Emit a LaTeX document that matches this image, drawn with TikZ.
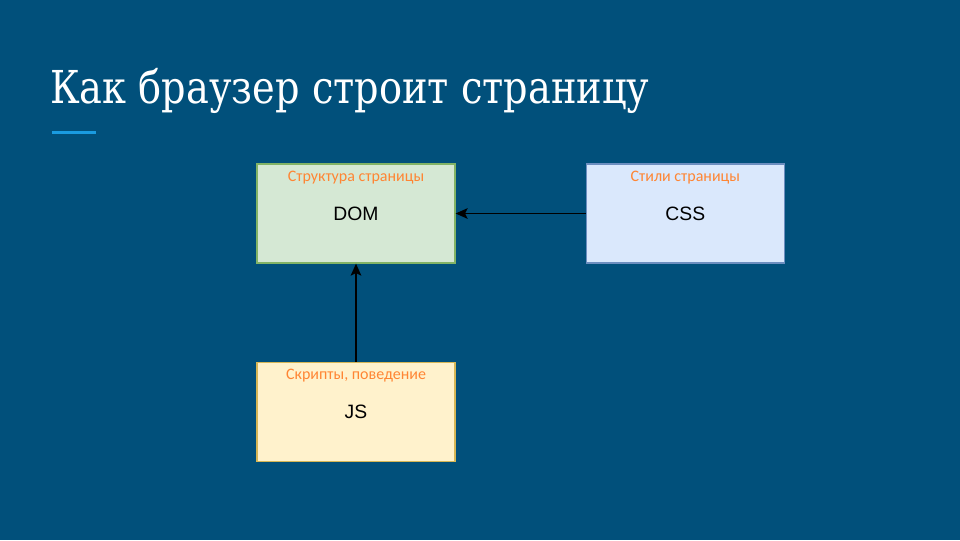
\documentclass[tikz,border=0pt]{standalone}
\usepackage{fontspec}
\setmainfont{Liberation Sans}
\newfontfamily\titlefont{DejaVu Serif}[FakeStretch=0.845]
\newfontfamily\capfont{Carlito}
\usepackage{tikz}
\usetikzlibrary{shapes,arrows.meta,positioning,calc}
\definecolor{slidebg}{HTML}{01507B}
\definecolor{slideaccent}{HTML}{1A9BE0}
\definecolor{capcolor}{HTML}{FF8533}
\definecolor{domfill}{HTML}{D5E8D4}
\definecolor{domdraw}{HTML}{82B366}
\definecolor{cssfill}{HTML}{DAE8FC}
\definecolor{cssdraw}{HTML}{6C8EBF}
\definecolor{jsfill}{HTML}{FFF2CC}
\definecolor{jsdraw}{HTML}{D6B656}
\tikzstyle{block} = [rectangle, line width=1pt, minimum width=148.5pt,
    minimum height=74.25pt, text=black, font=\fontsize{14.5}{16}\selectfont]
\tikzstyle{caption} = [inner sep=0pt, text=capcolor, font=\capfont\fontsize{12}{14}\selectfont]
\tikzstyle{arrow} = [-{Stealth[length=9pt,width=8pt,inset=2pt]}, line width=1.2pt, black]

\begin{document}
\begin{tikzpicture}[x=0.75pt, y=-0.75pt]
\fill[slidebg] (0,0) rectangle (960,540);
\useasboundingbox (0,0) rectangle (960,540);
\node[anchor=base west, inner sep=0pt, text=white, font=\titlefont\fontsize{34}{40}\selectfont] (title) at (50,103) {Как браузер строит страницу};
\fill[slideaccent] (52,131) rectangle (96,134);
\node[block, fill=domfill, draw=domdraw] (dom) at (356,213.5) {DOM};
\node[block, fill=cssfill, draw=cssdraw, right=97.5pt of dom] (css) {CSS};
\node[block, fill=jsfill, draw=jsdraw, below=73.5pt of dom] (js) {JS};
\node[caption] (domcap) at ([yshift=-10.5pt]dom.north) {Структура страницы};
\node[caption] (csscap) at ([yshift=-10.5pt]css.north) {Стили страницы};
\node[caption] (jscap) at ([yshift=-10.5pt]js.north) {Скрипты, поведение};
\draw[arrow] (css) -- (dom);
\draw[arrow] (js) -- (dom);
\end{tikzpicture}
\end{document}
